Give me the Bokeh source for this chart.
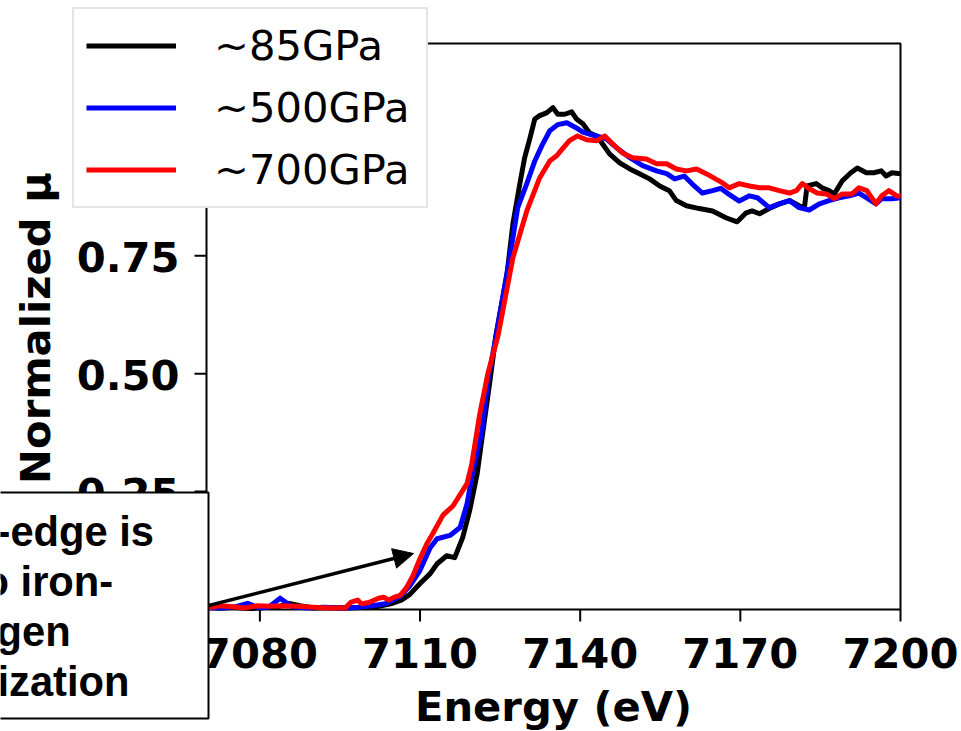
import math
from bokeh.plotting import figure
from bokeh.models import (Range1d, Legend, LegendItem, Label, BoxAnnotation, Arrow, NormalHead)
from bokeh.core.properties import value
from bokeh.embed import file_html
from bokeh.resources import INLINE

# ---------------- data ----------------
energy_85 = [7070.0, 7072.5, 7075.0, 7078.0, 7081.0, 7083.5, 7085.5, 7087.5, 7090.0, 7093.0,
             7096.0, 7099.0, 7102.0, 7104.5, 7106.5, 7108.1, 7110.0, 7111.9, 7113.2, 7115.0,
             7116.5, 7118.0, 7119.3, 7120.7, 7121.8, 7123.1, 7124.2, 7126.3, 7127.4, 7128.7,
             7129.6, 7130.6, 7131.5, 7132.4, 7133.7, 7134.9, 7135.8, 7137.1, 7138.4, 7139.3,
             7140.5, 7141.8, 7143.1, 7144.2, 7145.5, 7147.4, 7149.3, 7151.1, 7153.0, 7154.9,
             7156.7, 7158.0, 7159.9, 7162.3, 7164.8, 7167.4, 7169.4, 7171.1, 7172.2, 7173.6,
             7175.4, 7177.3, 7179.2, 7181.0, 7182.0, 7182.5, 7184.2, 7185.3, 7186.6, 7187.6,
             7189.1, 7190.7, 7191.9, 7193.6, 7195.0, 7196.4, 7197.3, 7198.4, 7200.0]
mu_85 = [0.004, 0.003, 0.005, 0.002, 0.004, 0.006, 0.013, 0.008, 0.003, 0.004,
         0.003, 0.004, 0.006, 0.012, 0.020, 0.032, 0.055, 0.076, 0.097, 0.114,
         0.110, 0.153, 0.210, 0.288, 0.379, 0.485, 0.580, 0.712, 0.818, 0.903,
         0.958, 1.000, 1.040, 1.047, 1.053, 1.064, 1.050, 1.050, 1.055, 1.040,
         1.030, 1.010, 1.004, 0.987, 0.966, 0.947, 0.934, 0.924, 0.913, 0.898,
         0.888, 0.867, 0.856, 0.850, 0.845, 0.830, 0.822, 0.841, 0.845, 0.839,
         0.850, 0.860, 0.867, 0.856, 0.852, 0.898, 0.903, 0.894, 0.888, 0.881,
         0.909, 0.926, 0.936, 0.926, 0.926, 0.930, 0.919, 0.926, 0.924]

energy_500 = [7070.0, 7073.0, 7075.5, 7077.7, 7079.5, 7081.5, 7083.8, 7086.0, 7089.0, 7092.0,
              7095.0, 7098.0, 7101.0, 7103.5, 7106.3, 7108.1, 7110.0, 7111.9, 7113.2, 7115.6,
              7117.5, 7118.8, 7119.9, 7121.6, 7122.7, 7124.4, 7126.8, 7128.3, 7130.0, 7131.5,
              7132.8, 7134.3, 7135.8, 7137.5, 7139.3, 7140.5, 7142.3, 7144.9, 7146.8, 7149.3,
              7151.7, 7154.3, 7156.2, 7157.7, 7159.5, 7161.0, 7162.9, 7164.8, 7166.3, 7167.9,
              7169.8, 7171.7, 7173.2, 7175.4, 7177.3, 7179.2, 7181.0, 7182.9, 7184.8, 7186.6,
              7188.5, 7190.4, 7192.2, 7193.6, 7195.4, 7196.5, 7198.4, 7200.0]
mu_500 = [0.004, 0.003, 0.006, 0.013, 0.005, 0.004, 0.024, 0.006, 0.003, 0.005,
          0.003, 0.004, 0.008, 0.012, 0.028, 0.050, 0.083, 0.131, 0.150, 0.157,
          0.174, 0.224, 0.294, 0.379, 0.485, 0.590, 0.746, 0.852, 0.903, 0.951,
          0.983, 1.015, 1.028, 1.032, 1.021, 1.012, 1.006, 0.998, 0.979, 0.958,
          0.941, 0.930, 0.924, 0.913, 0.919, 0.902, 0.883, 0.888, 0.893, 0.880,
          0.866, 0.877, 0.873, 0.852, 0.860, 0.867, 0.852, 0.847, 0.860, 0.867,
          0.873, 0.877, 0.883, 0.873, 0.860, 0.871, 0.871, 0.873]

energy_700 = [7070.0, 7072.5, 7075.0, 7077.0, 7079.5, 7082.0, 7084.5, 7087.0, 7090.0, 7093.0,
              7096.0, 7097.0, 7098.3, 7099.0, 7100.4, 7102.2, 7103.2, 7104.1, 7105.2, 7106.3,
              7107.5, 7108.7, 7110.0, 7111.3, 7112.4, 7114.3, 7116.2, 7118.8, 7119.7, 7121.2,
              7122.7, 7124.6, 7127.4, 7130.0, 7132.4, 7134.3, 7135.6, 7136.7, 7138.0, 7139.5,
              7141.2, 7143.1, 7144.6, 7146.1, 7147.9, 7149.8, 7152.4, 7154.3, 7156.2, 7158.0,
              7159.9, 7161.8, 7163.6, 7165.5, 7166.6, 7167.9, 7169.8, 7171.7, 7173.6, 7175.4,
              7177.3, 7179.2, 7180.5, 7181.6, 7182.9, 7184.4, 7186.1, 7187.6, 7189.1, 7190.9,
              7192.2, 7193.7, 7195.4, 7196.5, 7197.8, 7199.3, 7200.0]
mu_700 = [0.003, 0.008, 0.006, 0.003, 0.008, 0.007, 0.008, 0.007, 0.005, 0.003,
          0.003, 0.015, 0.020, 0.012, 0.015, 0.024, 0.026, 0.020, 0.026, 0.030,
          0.047, 0.072, 0.108, 0.140, 0.161, 0.200, 0.220, 0.267, 0.309, 0.415,
          0.500, 0.580, 0.746, 0.845, 0.915, 0.951, 0.962, 0.977, 0.994, 1.004,
          0.996, 0.994, 1.004, 0.987, 0.968, 0.958, 0.955, 0.945, 0.945, 0.934,
          0.930, 0.934, 0.924, 0.912, 0.905, 0.894, 0.903, 0.898, 0.894, 0.894,
          0.888, 0.883, 0.888, 0.903, 0.892, 0.883, 0.881, 0.871, 0.881, 0.881,
          0.894, 0.888, 0.860, 0.877, 0.888, 0.877, 0.875]

series_labels = ["~85GPa", "~500GPa", "~700GPa"]
series_colors = ["black", "blue", "red"]
x_ticks = [7080, 7110, 7140, 7170, 7200]
y_ticks = [0.0, 0.25, 0.50, 0.75, 1.00]
x_tick_labels = [str(t) for t in x_ticks]
y_tick_labels = ["%.2f" % t for t in y_ticks]
x_title = "Energy (eV)"
y_title = "Normalized μ"
note_lines = ["-edge is", "o iron-", "gen", "ization"]

# ---------------- layout ----------------
X0, X1 = 7070.0, 7200.0          # axis limits
Y0, Y1 = 0.0, 1.2
FL, FR, FT, FB = 206, 900, 43, 609   # axes box edges in canvas pixels
W, H = 961, 731
SX = (X1 - X0) / (FR - FL)
SY = (Y1 - Y0) / (FB - FT)
BFIX = 14   # baseline correction of the text renderer (px)


def px_x(px):
    return X0 + (px - FL) * SX


def px_y(py):
    return Y0 + (FB - py) * SY


FS = "41.7px"
FONT = "DejaVu Sans"
TICK = 12

# the whole canvas is the drawing frame, so the legend and note box can overhang the axes box
p = figure(width=W, height=H, x_range=Range1d(px_x(0), px_x(W)), y_range=Range1d(px_y(H), px_y(0)),
           output_backend="svg", toolbar_location=None, x_axis_location=None, y_axis_location=None,
           min_border=0)
p.min_border_left = p.min_border_right = p.min_border_top = p.min_border_bottom = 0
p.outline_line_color = None
p.grid.visible = False
p.background_fill_color = "white"
p.border_fill_color = "white"

# axes box (spines)
p.line([X0, X1, X1, X0, X0], [Y0, Y0, Y1, Y1, Y0], line_color="black", line_width=2)

# ticks
p.segment(x0=x_ticks, y0=[Y0] * len(x_ticks), x1=x_ticks, y1=[px_y(FB + TICK)] * len(x_ticks),
          line_color="black", line_width=2)
p.segment(x0=[X0] * len(y_ticks), y0=y_ticks, x1=[px_x(FL - TICK)] * len(y_ticks), y1=y_ticks,
          line_color="black", line_width=2)

# tick labels
p.text(x=x_ticks, y=[px_y(666 - BFIX)] * len(x_ticks), text=x_tick_labels,
       text_font=value(FONT), text_font_size=value(FS), text_font_style=value("bold"),
       text_align=value("center"), text_baseline=value("alphabetic"), text_color="black")
p.text(x=[px_x(179)] * len(y_ticks), y=[t - (15.2 - BFIX) * SY for t in y_ticks], text=y_tick_labels,
       text_font=value(FONT), text_font_size=value(FS), text_font_style=value("bold"),
       text_align=value("right"), text_baseline=value("alphabetic"), text_color="black")

# axis titles
p.text(x=[(X0 + X1) / 2], y=[px_y(720 - BFIX)], text=[x_title],
       text_font=value(FONT), text_font_size=value(FS), text_font_style=value("bold"),
       text_align=value("center"), text_baseline=value("alphabetic"), text_color="black")
p.text(x=[px_x(49 - BFIX)], y=[(Y0 + Y1) / 2 - 1.5 * SY], text=[y_title], angle=math.pi / 2,
       text_font=value(FONT), text_font_size=value(FS), text_font_style=value("bold"),
       text_align=value("center"), text_baseline=value("alphabetic"), text_color="black")

# curves
renderers = []
for xs, ys, c in ((energy_85, mu_85, series_colors[0]),
                  (energy_500, mu_500, series_colors[1]),
                  (energy_700, mu_700, series_colors[2])):
    renderers.append(p.line(xs, ys, line_color=c, line_width=5, line_join="round"))

# arrow pointing to the pre-edge
arrow = Arrow(end=NormalHead(size=20, fill_color="black", line_color="black", line_width=1),
              x_start=px_x(150), y_start=px_y(619.7), x_end=px_x(413), y_end=px_y(553),
              line_color="black", line_width=3.5)
p.add_layout(arrow)

# note box (cropped at the left edge of the picture)
box = BoxAnnotation(left=px_x(-30), right=px_x(208), top=px_y(492), bottom=px_y(718),
                    fill_color="white", fill_alpha=1.0, line_color="black", line_width=2,
                    line_alpha=1.0)
p.add_layout(box)

note_x = [-4, -17, -4, -3]
note_base = [545, 595, 645, 695]
for t, nx, ny in zip(note_lines, note_x, note_base):
    p.add_layout(Label(x=px_x(nx), y=px_y(ny - BFIX), text=t, text_font="Liberation Sans",
                       text_font_style="bold", text_font_size=FS, text_color="black",
                       text_align="left", text_baseline="alphabetic"))

legend = Legend(items=[LegendItem(label=l, renderers=[r]) for l, r in zip(series_labels, renderers)],
                location=(72, H - 208),
                label_text_font=FONT, label_text_font_size=FS, label_text_color="black",
                glyph_width=90, glyph_height=45, label_height=45, label_width=200,
                label_standoff=38, spacing=13, padding=12, margin=0,
                border_line_color="#cccccc", border_line_width=2,
                background_fill_color="white", background_fill_alpha=1.0)
p.add_layout(legend)

open("out.html", "w").write(file_html(p, INLINE))
